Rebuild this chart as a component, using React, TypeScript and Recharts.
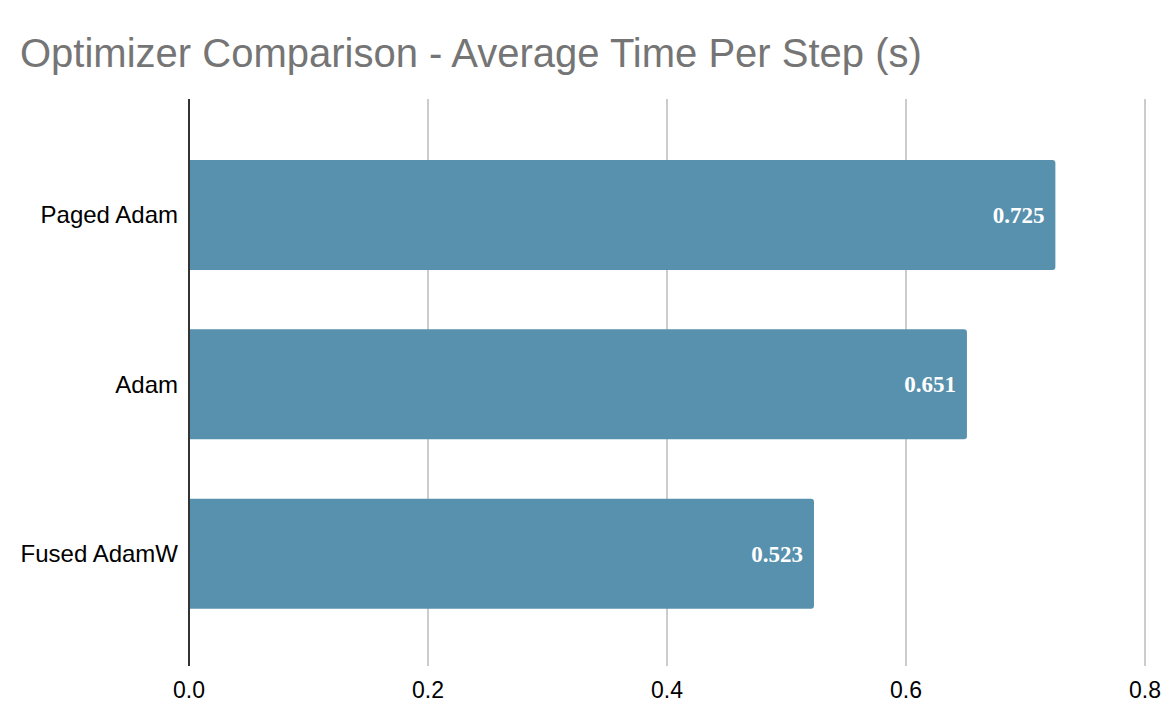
import { BarChart, Bar, XAxis, YAxis, CartesianGrid, LabelList } from 'recharts';

const optimizers = ['Paged Adam', 'Adam', 'Fused AdamW'];
const avgStepTime = [0.725, 0.651, 0.523];
const xTicks = [0, 0.2, 0.4, 0.6, 0.8];

const chartData = optimizers.map((name, i) => ({ name, time: avgStepTime[i] }));

const sans = '"Liberation Sans", Arial, sans-serif';

export default function App() {
  return (
    <div style={{ position: 'absolute', left: 0, top: 0, width: 1168, height: 724, background: '#fff' }}>
      <div
        style={{
          position: 'absolute',
          left: 20,
          top: 33,
          fontFamily: sans,
          fontSize: 40,
          lineHeight: '40px',
          color: '#757575',
          whiteSpace: 'nowrap',
        }}
      >
        Optimizer Comparison - Average Time Per Step (s)
      </div>
      <BarChart
        width={1168}
        height={724}
        data={chartData}
        layout="vertical"
        margin={{ top: 99, right: 23, bottom: 0, left: 0 }}
      >
        <CartesianGrid horizontal={false} stroke="#cccccc" strokeWidth={2} />
        <XAxis
          type="number"
          domain={[0, 0.8]}
          ticks={xTicks}
          tickFormatter={(v) => v.toFixed(1)}
          axisLine={false}
          tickLine={false}
          tickMargin={10}
          height={58}
          tick={{ fill: '#000', fontSize: 23, fontFamily: sans }}
        />
        <YAxis
          type="category"
          dataKey="name"
          width={189}
          padding={{ top: 31, bottom: 28 }}
          axisLine={{ stroke: '#333', strokeWidth: 2 }}
          tickLine={false}
          tickMargin={5}
          tick={{ fill: '#000', fontSize: 24, fontFamily: sans }}
        />
        <Bar dataKey="time" fill="#5891ae" barSize={110} radius={[0, 3, 3, 0]} isAnimationActive={false}>
          <LabelList
            dataKey="time"
            position="insideRight"
            offset={11}
            formatter={(v: number) => v.toFixed(3)}
            fill="#fff"
            style={{ fontFamily: '"Liberation Serif", "Times New Roman", serif', fontWeight: 'bold', fontSize: 23 }}
          />
        </Bar>
      </BarChart>
    </div>
  );
}
